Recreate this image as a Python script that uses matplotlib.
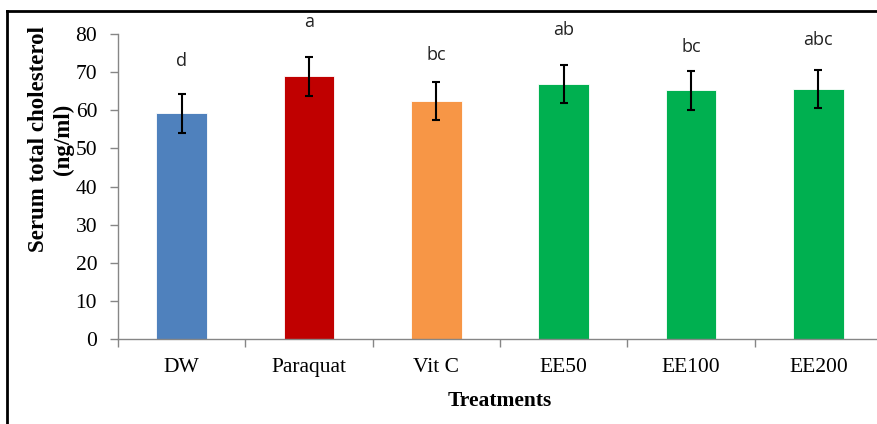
import matplotlib
matplotlib.use("Agg")
import matplotlib.pyplot as plt
from matplotlib.lines import Line2D

tratamentos = ["DW", "Paraquat", "Vit C", "EE50", "EE100", "EE200"]
colesterol = [59.2, 68.9, 62.5, 67.0, 65.2, 65.6]
erro = [5.1, 5.1, 5.0, 5.0, 5.1, 5.0]
letras = ["d", "a", "bc", "ab", "bc", "abc"]
pos_letras = [71.5, 81.8, 73.2, 79.8, 75.4, 77.2]
cores = ["#4F81BD", "#C00000", "#F79646", "#00B050", "#00B050", "#00B050"]

fig = plt.figure(figsize=(8.78, 4.24), dpi=100)
ax = fig.add_axes([118 / 878, 85 / 424, 764 / 878, 305 / 424])

x = list(range(len(tratamentos)))
ax.bar(x, colesterol, width=0.4, color=cores, edgecolor="white", linewidth=0.6,
       yerr=erro, error_kw=dict(ecolor="black", elinewidth=1.5, capsize=3, capthick=1.5),
       zorder=2)

for xi, letra, yl in zip(x, letras, pos_letras):
    ax.text(xi, yl, letra, ha="center", va="baseline", fontsize=13,
            family="Open Sans", color="#222222", clip_on=False)

ax.set_xlim(-0.5, len(tratamentos) - 0.5)
ax.set_ylim(0, 80)
ax.set_yticks(range(0, 81, 10))

serif = "Liberation Serif"
ax.set_xticks(x)
ax.set_xticklabels(tratamentos, family=serif, fontsize=15.5)
ax.set_xticks([i - 0.5 for i in range(len(tratamentos) + 1)], minor=True)
ax.tick_params(axis="x", which="major", length=0, pad=14)
ax.tick_params(axis="x", which="minor", length=6, width=1, color="#868686", direction="out")
ax.tick_params(axis="y", length=6, width=1, color="#868686", pad=9)
for t in ax.get_yticklabels():
    t.set_family(serif)
    t.set_fontsize(15.5)

for s in ["top", "right"]:
    ax.spines[s].set_visible(False)
for s in ["left", "bottom"]:
    ax.spines[s].set_color("#868686")
    ax.spines[s].set_linewidth(1)

ax.set_xlabel("Treatments", family=serif, fontsize=15.5, fontweight="bold", labelpad=10)
fig.text(51 / 878, 1 - 139 / 424, "Serum total cholesterol\n(ng/ml)", rotation=90,
         ha="center", va="center", family=serif, fontsize=16.5, fontweight="bold",
         linespacing=1.2, multialignment="center")

# moldura (só esquerda e topo aparecem)
fig.add_artist(Line2D([7 / 878, 7 / 878], [0, 1 - 11 / 424], color="black", linewidth=2))
fig.add_artist(Line2D([7 / 878, 1], [1 - 11 / 424, 1 - 11 / 424], color="black", linewidth=2))

fig.savefig("out.png", dpi=100)
